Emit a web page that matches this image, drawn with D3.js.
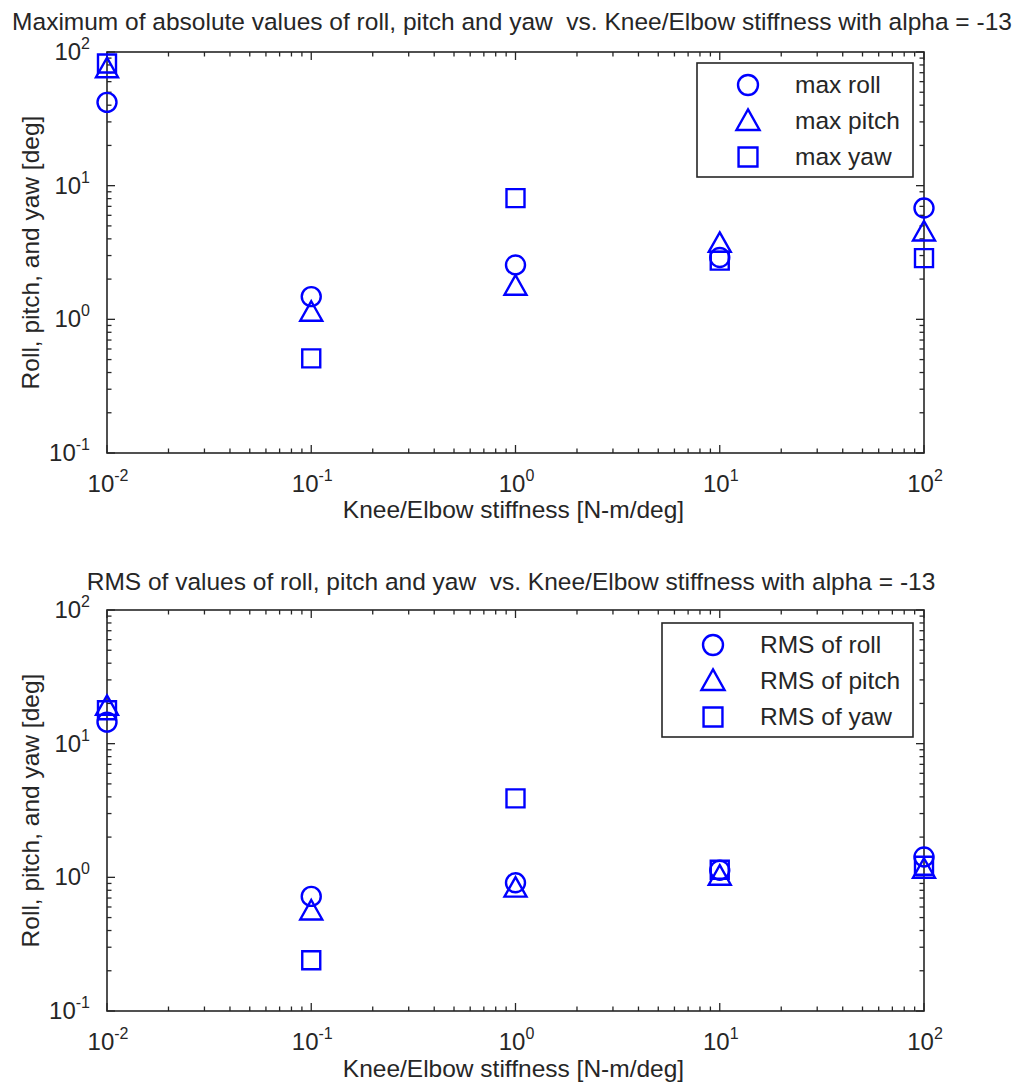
<!DOCTYPE html>
<html>
<head>
<meta charset="utf-8">
<script src="https://cdn.jsdelivr.net/npm/d3@7"></script>
<style>
  html, body { margin: 0; padding: 0; background: #ffffff; }
  svg { display: block; }
  text { font-family: "Liberation Sans", Arial, Helvetica, sans-serif; fill: #262626; white-space: pre; }
</style>
</head>
<body>
<svg id="chart" width="1018" height="1090"></svg>
<script>
// Knee/Elbow stiffness sweep [N-m/deg]
const stiffness = [0.01, 0.1, 1, 10, 100];

// Maximum of absolute values [deg]
const maxRoll  = [42, 1.48, 2.55, 2.9, 6.8];
const maxPitch = [75, 1.13, 1.77, 3.7, 4.5];
const maxYaw   = [82, 0.51, 8.07, 2.75, 2.87];

// RMS values [deg]
const rmsRoll  = [14.5, 0.72, 0.91, 1.13, 1.42];
const rmsPitch = [19, 0.56, 0.83, 1.02, 1.15];
const rmsYaw   = [17.8, 0.24, 3.9, 1.14, 1.22];

const xDomain = [0.01, 100];
const yDomain = [0.1, 100];
const xLabel = "Knee/Elbow stiffness [N-m/deg]";
const yLabel = "Roll, pitch, and yaw [deg]";

const titles = [
  "Maximum of absolute values of roll, pitch and yaw  vs. Knee/Elbow stiffness with alpha = -13",
  "RMS of values of roll, pitch and yaw  vs. Knee/Elbow stiffness with alpha = -13"
];
const legendLabels = [
  ["max roll", "max pitch", "max yaw"],
  ["RMS of roll", "RMS of pitch", "RMS of yaw"]
];

const svg = d3.select("#chart");
const AX = "#262626";
const BLUE = "#0000ff";
const FS = 24.5;

// marker outlines centred on the data point
const markerPath = {
  triangle: r => `M0,${-r * 1.1}L${r * 1.1},${r * 0.85}L${-r * 1.1},${r * 0.85}Z`,
  square: r => `M${-r * 0.9},${-r * 0.9}h${r * 1.8}v${r * 1.8}h${-r * 1.8}Z`
};
function marker(g, shape, x, y, r = 10) {
  if (shape === "circle") {
    g.append("circle").attr("cx", x).attr("cy", y).attr("r", r * 0.95)
      .attr("fill", "none").attr("stroke", BLUE).attr("stroke-width", 2.4);
  } else {
    g.append("path").attr("d", markerPath[shape](r))
      .attr("transform", `translate(${x},${y})`)
      .attr("fill", "none").attr("stroke", BLUE).attr("stroke-width", 2.4)
      .attr("stroke-linejoin", "miter");
  }
}

function powLabel(sel, exp) {
  sel.append("tspan").text("10");
  sel.append("tspan").attr("font-size", 16).attr("dy", -11).text(exp);
}

function panel(cfg) {
  const { top, bottom, left, right, title, titleY, xLabelY, series, legend } = cfg;
  const x = d3.scaleLog().domain(xDomain).range([left, right]);
  const y = d3.scaleLog().domain(yDomain).range([bottom, top]);
  const g = svg.append("g");

  const isMajor = v => Math.abs(Math.log10(v) - Math.round(Math.log10(v))) < 1e-9;

  // ticks pointing inward on all four sides
  const tk = g.append("g").attr("stroke", AX).attr("stroke-width", 1.3);
  x.ticks().forEach(v => {
    const L = isMajor(v) ? 8 : 4.5;
    const px = x(v);
    tk.append("line").attr("x1", px).attr("x2", px).attr("y1", bottom).attr("y2", bottom - L);
    tk.append("line").attr("x1", px).attr("x2", px).attr("y1", top).attr("y2", top + L);
  });
  y.ticks().forEach(v => {
    const L = isMajor(v) ? 8 : 4.5;
    const py = y(v);
    tk.append("line").attr("y1", py).attr("y2", py).attr("x1", left).attr("x2", left + L);
    tk.append("line").attr("y1", py).attr("y2", py).attr("x1", right).attr("x2", right - L);
  });

  // axes box
  g.append("rect").attr("x", left).attr("y", top)
    .attr("width", right - left).attr("height", bottom - top)
    .attr("fill", "none").attr("stroke", AX).attr("stroke-width", 1.6);

  // tick labels
  x.ticks().filter(isMajor).forEach(v => {
    const t = g.append("text").attr("x", x(v) + 1).attr("y", bottom + 39)
      .attr("text-anchor", "middle").attr("font-size", 24);
    powLabel(t, String(Math.round(Math.log10(v))));
  });
  y.ticks().filter(isMajor).forEach(v => {
    const t = g.append("text").attr("x", left - 17).attr("y", y(v) + 8)
      .attr("text-anchor", "end").attr("font-size", 24);
    powLabel(t, String(Math.round(Math.log10(v))));
  });

  // title and axis labels
  g.append("text").attr("x", cfg.titleX).attr("y", titleY).attr("text-anchor", "middle")
    .attr("font-size", FS).text(title);
  g.append("text").attr("x", (left + right) / 2 - 2).attr("y", xLabelY)
    .attr("text-anchor", "middle").attr("font-size", FS).text(xLabel);
  g.append("text").attr("transform", `translate(39,${(top + bottom) / 2}) rotate(-90)`)
    .attr("text-anchor", "middle").attr("font-size", FS).text(yLabel);

  // data markers
  const pts = g.append("g");
  series.forEach(s => {
    stiffness.forEach((k, i) => marker(pts, s.shape, x(k), y(s.values[i])));
  });

  // legend
  const lg = g.append("g");
  lg.append("rect").attr("x", legend.x).attr("y", legend.y)
    .attr("width", legend.w).attr("height", legend.h)
    .attr("fill", "#ffffff").attr("stroke", AX).attr("stroke-width", 1.6);
  series.forEach((s, i) => {
    const cy = legend.y + 22 + i * 36;
    marker(lg, s.shape, legend.mx, cy, 10.5);
    lg.append("text").attr("x", legend.tx).attr("y", cy + 8)
      .attr("font-size", FS).text(s.label);
  });
}

panel({
  top: 52, bottom: 453, left: 107, right: 924,
  title: titles[0], titleX: 512, titleY: 30, xLabelY: 518,
  series: [
    { shape: "circle", values: maxRoll, label: legendLabels[0][0] },
    { shape: "triangle", values: maxPitch, label: legendLabels[0][1] },
    { shape: "square", values: maxYaw, label: legendLabels[0][2] }
  ],
  legend: { x: 697, y: 63, w: 216, h: 114, mx: 748, tx: 795 }
});

panel({
  top: 610, bottom: 1011, left: 107, right: 924,
  title: titles[1], titleX: 511, titleY: 590, xLabelY: 1077,
  series: [
    { shape: "circle", values: rmsRoll, label: legendLabels[1][0] },
    { shape: "triangle", values: rmsPitch, label: legendLabels[1][1] },
    { shape: "square", values: rmsYaw, label: legendLabels[1][2] }
  ],
  legend: { x: 662, y: 623, w: 251, h: 114, mx: 713, tx: 760 }
});
</script>
</body>
</html>
